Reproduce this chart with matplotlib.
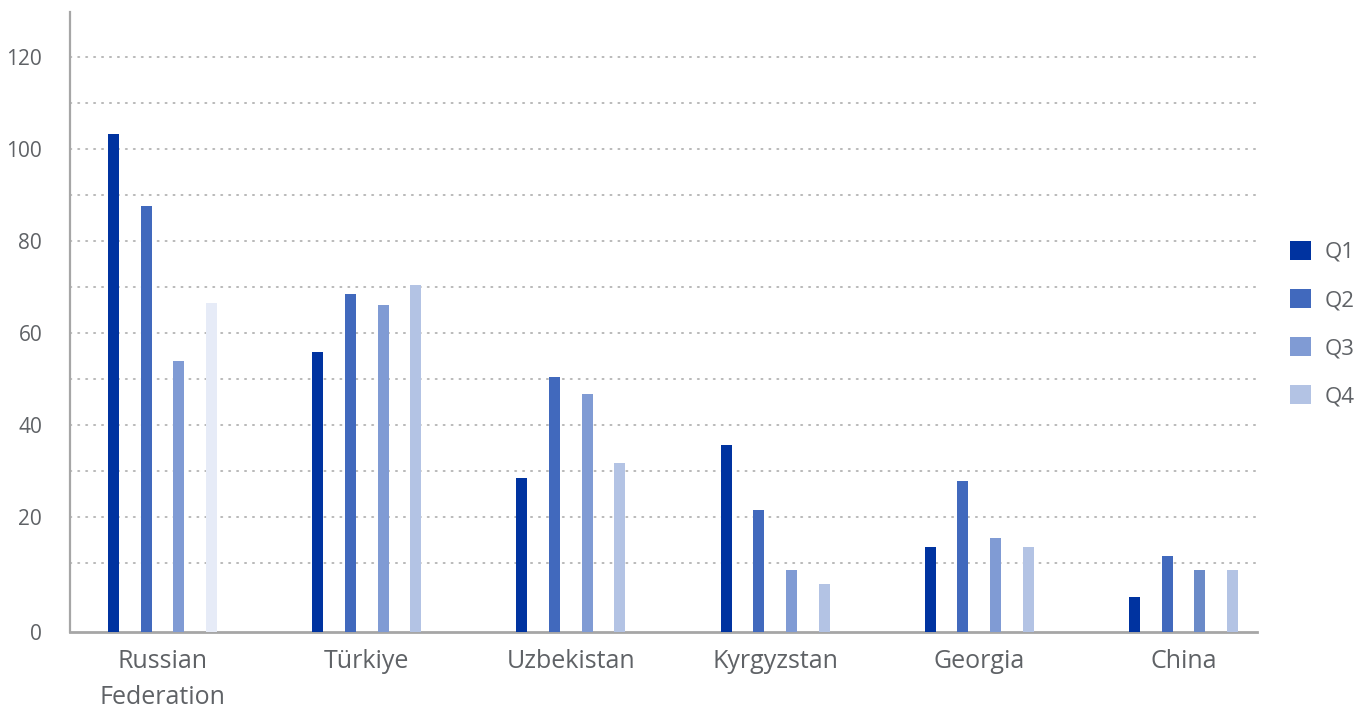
import numpy as np
import matplotlib
matplotlib.use('Agg')
from matplotlib import pyplot as plt
from matplotlib.patches import Patch

plt.rcParams['font.family'] = ['Open Sans', 'DejaVu Sans']

countries = ['Russian\nFederation', 'Türkiye', 'Uzbekistan', 'Kyrgyzstan', 'Georgia', 'China']
quarters = ['Q1', 'Q2', 'Q3', 'Q4']
q1 = [103.2, 55.9, 28.5, 35.7, 13.5, 2.6]
q2 = [87.6, 68.5, 50.4, 21.5, 27.8, 11.5]
q3 = [53.9, 66.1, 46.7, 8.5, 15.4, 8.5]
q4 = [66.5, 70.5, 31.7, 5.4, 13.5, 8.5]

colors = ['#0033a0', '#4169bd', '#809bd4', '#b3c3e4']
text_col = '#5f6266'
axis_col = '#a6a6a6'

fig = plt.figure(figsize=(13.59, 7.08), dpi=100)
ax = fig.add_axes([70/1359, 1 - 632/708, 1187/1359, 620/708])

ymin, ymax = -5, 129.8
x = np.arange(len(countries))
step = 0.16
width = 0.054
for i, (vals, c) in enumerate(zip([q1, q2, q3, q4], colors)):
    bar_colors = [c] * len(countries)
    if i == 3:
        bar_colors[0] = '#e6ebf7'   # Russian Federation Q4 drawn paler
    if i == 2:
        bar_colors[5] = '#6a8ac8'
    heights = np.array(vals) - ymin
    ax.bar(x + (i - 1.5) * step, heights, width, bottom=ymin,
           color=bar_colors, zorder=3)

# dotted grid every 10 units
for v in range(10, 121, 10):
    ax.axhline(v, color=axis_col, lw=1.1, linestyle=(0, (1, 4.2)),
               dash_capstyle='round', zorder=1)

ax.set_xlim(-0.453, 5.36)
ax.set_ylim(ymin, ymax)

ax.set_yticks([ymin] + list(range(20, 121, 20)))
ax.set_yticklabels(['0'] + [str(v) for v in range(20, 121, 20)])
ax.set_xticks(x)
ax.set_xticklabels(countries, linespacing=1.62)

ax.tick_params(axis='y', length=0, pad=20, labelsize=15, labelcolor=text_col)
ax.tick_params(axis='x', length=0, pad=12, labelsize=18, labelcolor=text_col)

for s in ['top', 'right']:
    ax.spines[s].set_visible(False)
ax.spines['left'].set_color(axis_col)
ax.spines['left'].set_linewidth(1.6)
ax.spines['bottom'].set_color(axis_col)
ax.spines['bottom'].set_linewidth(2)

handles = [Patch(facecolor=c, edgecolor='none') for c in colors]
leg = fig.legend(handles, quarters, loc='center left',
                 bbox_to_anchor=(1290/1359, 1 - 324/708), frameon=False,
                 fontsize=16, handlelength=0.95, handleheight=0.95,
                 handletextpad=0.6, labelspacing=1.17,
                 borderpad=0, borderaxespad=0)
for t in leg.get_texts():
    t.set_color(text_col)

fig.savefig('out.png', dpi=100)
